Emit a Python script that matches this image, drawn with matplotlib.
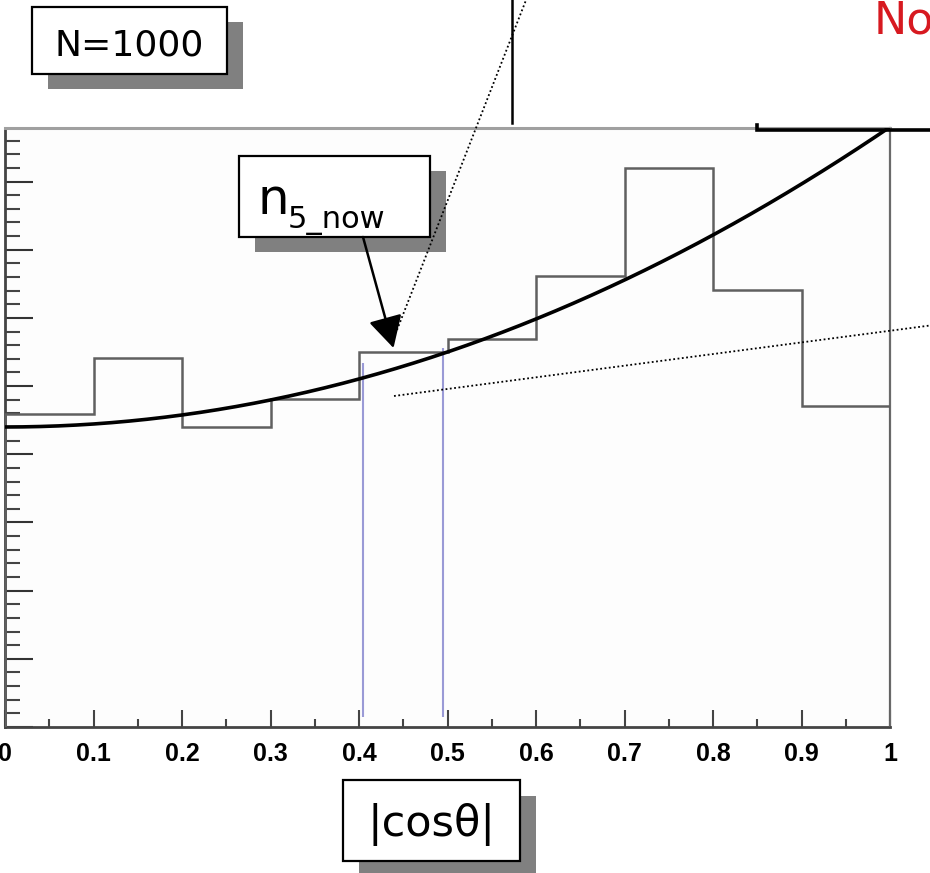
import matplotlib
matplotlib.use("Agg")
import matplotlib.pyplot as plt
import numpy as np
from matplotlib.lines import Line2D
from matplotlib.patches import Rectangle, FancyArrowPatch
from matplotlib.ticker import MultipleLocator, FixedLocator

# ---------------- data ----------------
bin_edges = [0.0, 0.1, 0.2, 0.3, 0.4, 0.5, 0.6, 0.7, 0.8, 0.9, 1.0]
bin_counts = [91.9, 108.1, 88.0, 96.1, 109.9, 113.8, 132.3, 164.0, 128.2, 94.1]
fit_p0 = 88.0          # fit: p0 * (1 + p1 * x^2)
fit_p1 = 1.0
marker_x = [0.404, 0.495]
marker_top = [106.7, 111.1]
marker_bottom = [2.9, 2.9]
xtick_values = [0, 0.1, 0.2, 0.3, 0.4, 0.5, 0.6, 0.7, 0.8, 0.9, 1.0]
xtick_labels = ["0", "0.1", "0.2", "0.3", "0.4", "0.5", "0.6", "0.7", "0.8", "0.9", "1"]
y_max = 175.7

W, H = 930, 873
fig = plt.figure(figsize=(W / 100, H / 100), dpi=100)
fig.patch.set_facecolor("white")

def fx(px):
    return px / W

def fy(py):
    return 1 - py / H

ax = fig.add_axes([fx(5), fy(727), (890 - 5) / W, (727 - 128) / H])
ax.set_facecolor("#fdfdfd")
ax.set_xlim(0, 1)
ax.set_ylim(0, y_max)

# histogram
ax.stairs(bin_counts, bin_edges, color="#606060", lw=1.8, zorder=3)

# fit curve
xs = np.linspace(0, 1, 300)
ax.plot(xs, fit_p0 * (1 + fit_p1 * xs ** 2), color="black", lw=2.6, zorder=4)

# purple markers
ax.vlines(marker_x, marker_bottom, marker_top, color="#9a9ad6", lw=1.5, zorder=2)

# ticks
ax.xaxis.set_major_locator(FixedLocator(xtick_values))
ax.set_xticklabels(xtick_labels, fontfamily="Liberation Sans", fontweight="bold", fontsize=18)
ax.xaxis.set_minor_locator(MultipleLocator(0.05))
ax.yaxis.set_major_locator(MultipleLocator(20))
ax.yaxis.set_minor_locator(MultipleLocator(4))
ax.tick_params(axis="x", which="major", direction="in", length=12, width=1.5, color="#444", pad=10.5)
ax.tick_params(axis="x", which="minor", direction="in", length=6, width=1.5, color="#444")
ax.tick_params(axis="y", which="major", direction="in", length=20, width=1.5, color="#333", labelleft=False)
ax.tick_params(axis="y", which="minor", direction="in", length=11, width=1.5, color="#444")
ax.tick_params(top=False, right=False)

for side, col, lw in [("left", "#444444", 2.0), ("bottom", "#444444", 2.0),
                      ("top", "#a0a0a0", 2.2), ("right", "#6a6a6a", 1.6)]:
    ax.spines[side].set_color(col)
    ax.spines[side].set_linewidth(lw)

# ---------------- overlays (figure pixel coords) ----------------
def fline(xp, yp, **kw):
    fig.add_artist(Line2D([fx(v) for v in xp], [fy(v) for v in yp],
                          transform=fig.transFigure, **kw))

def shadow_box(x0, y0, x1, y1, off_x, off_y):
    fig.add_artist(Rectangle((fx(x0 + off_x), fy(y1 + off_y)), (x1 - x0) / W, (y1 - y0) / H,
                             transform=fig.transFigure, facecolor="#808080", edgecolor="none"))
    fig.add_artist(Rectangle((fx(x0), fy(y1)), (x1 - x0) / W, (y1 - y0) / H,
                             transform=fig.transFigure, facecolor="white", edgecolor="black", lw=1.6))

# thick top line
fline([757, 757, 930], [125, 129.5, 129.5], color="black", lw=2.6, solid_joinstyle="miter")
# vertical line above plot
fline([512, 512], [0, 123], color="black", lw=1.8)
# dotted lines
fline([397, 528], [330, -5], color="black", lw=1.3, linestyle=(0, (1, 1.4)))
fline([394, 930], [396, 325.5], color="black", lw=1.3, linestyle=(0, (1, 1.4)))

# N=1000 box
shadow_box(32, 7, 227, 74, 16, 15)
fig.text(fx(129.5), fy(55), "N=1000", fontfamily="DejaVu Sans", fontsize=26,
         ha="center", va="baseline", color="black")

# n_5_now box
shadow_box(239, 156, 430, 237, 16, 15)
fig.text(fx(257), fy(214), "n", fontfamily="DejaVu Sans", fontsize=36,
         ha="left", va="baseline", color="black")
fig.text(fx(288), fy(228), "5_now", fontfamily="DejaVu Sans", fontsize=22,
         ha="left", va="baseline", color="black")

# arrow
fig.add_artist(FancyArrowPatch((fx(363), fy(237)), (fx(393.5), fy(348)),
                               transform=fig.transFigure, arrowstyle="-|>,head_length=1.3,head_width=0.7",
                               mutation_scale=15, color="black", lw=1.8, shrinkA=0, shrinkB=0))

# |cos theta| box
shadow_box(343, 780, 520, 861, 16, 16)
fig.text(fx(431), fy(836), "|cosθ|", fontfamily="DejaVu Sans", fontsize=31,
         ha="center", va="baseline", color="black")

# red partial title
fig.text(fx(874), fy(33), "No", fontfamily="DejaVu Sans", fontsize=32,
         ha="left", va="baseline", color="#d71920")

fig.savefig("out.png", dpi=100)
